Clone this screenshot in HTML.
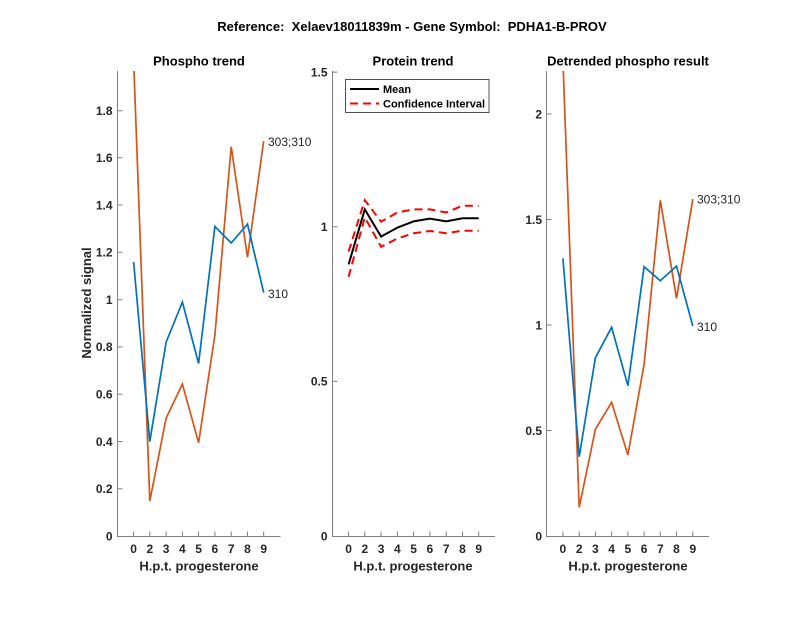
<!DOCTYPE html>
<html><head><meta charset="utf-8"><style>
html,body{margin:0;padding:0;background:#fff;}
svg{display:block;font-family:"Liberation Sans",Arial,Helvetica,sans-serif;}
.tk{font-size:12px;font-weight:bold;fill:#262626;}
.ttl{font-size:13px;font-weight:bold;fill:#000;}
.lab{font-size:13px;font-weight:bold;fill:#262626;}
.ax{stroke:#808080;stroke-width:1;fill:none;}
.dl{font-size:12px;fill:#262626;}
</style></head><body>
<svg width="800" height="618" viewBox="0 0 800 618" xmlns="http://www.w3.org/2000/svg">
<rect width="800" height="618" fill="#fff"/>
<defs>
<clipPath id="c1"><rect x="117" y="71" width="164" height="466"/></clipPath>
<clipPath id="c3"><rect x="546" y="71" width="164" height="466"/></clipPath>
</defs>
<text x="412" y="31" class="ttl" text-anchor="middle">Reference:&#160; Xelaev18011839m - Gene Symbol:&#160; PDHA1-B-PROV</text>

<!-- LEFT PLOT -->
<text x="199" y="65.5" class="ttl" text-anchor="middle">Phospho trend</text>
<path class="ax" d="M117.5,71 V536.5 H280.5"/>
<g stroke="#808080" stroke-width="1">
<path d="M133.6,536 v-4.5 M149.8,536 v-4.5 M166.1,536 v-4.5 M182.4,536 v-4.5 M198.6,536 v-4.5 M214.9,536 v-4.5 M231.2,536 v-4.5 M247.5,536 v-4.5 M263.7,536 v-4.5"/>
<path d="M118,488.7 h4.5 M118,441.5 h4.5 M118,394.1 h4.5 M118,346.9 h4.5 M118,299.7 h4.5 M118,252.2 h4.5 M118,205 h4.5 M118,157.8 h4.5 M118,110.7 h4.5"/>
</g>
<g class="tk" text-anchor="end">
<text x="112.5" y="540.3">0</text>
<text x="112.5" y="493">0.2</text>
<text x="112.5" y="445.8">0.4</text>
<text x="112.5" y="398.4">0.6</text>
<text x="112.5" y="351.2">0.8</text>
<text x="112.5" y="304">1</text>
<text x="112.5" y="256.5">1.2</text>
<text x="112.5" y="209.3">1.4</text>
<text x="112.5" y="162.1">1.6</text>
<text x="112.5" y="115">1.8</text>
</g>
<g class="tk" text-anchor="middle">
<text x="133.6" y="553">0</text><text x="149.8" y="553">2</text><text x="166.1" y="553">3</text><text x="182.4" y="553">4</text><text x="198.6" y="553">5</text><text x="214.9" y="553">6</text><text x="231.2" y="553">7</text><text x="247.5" y="553">8</text><text x="263.7" y="553">9</text>
</g>
<text x="199" y="570.5" class="lab" text-anchor="middle">H.p.t. progesterone</text>
<text transform="translate(91,303) rotate(-90)" class="lab" text-anchor="middle">Normalized signal</text>
<g clip-path="url(#c1)" fill="none" stroke-width="1.7" stroke-linejoin="miter">
<polyline stroke="#D95319" points="133.6,60 149.8,501 166.1,418.3 182.4,384 198.6,442.7 214.9,335 231.2,146.7 247.5,257.3 263.7,141"/>
<polyline stroke="#0072BD" points="133.6,261.9 149.8,441.5 166.1,342.2 182.4,302.1 198.6,363.5 214.9,226.5 231.2,243 247.5,224.1 263.7,292.6"/>
</g>
<text x="268" y="146" class="dl">303;310</text>
<text x="268" y="298" class="dl">310</text>

<!-- MIDDLE PLOT -->
<text x="413" y="65.5" class="ttl" text-anchor="middle">Protein trend</text>
<path class="ax" d="M332.5,71 V536.5 H495"/>
<g stroke="#808080" stroke-width="1">
<path d="M348.6,536 v-4.5 M364.8,536 v-4.5 M381.1,536 v-4.5 M397.4,536 v-4.5 M413.6,536 v-4.5 M429.9,536 v-4.5 M446.2,536 v-4.5 M462.5,536 v-4.5 M478.7,536 v-4.5"/>
<path d="M333,381.4 h4.5 M333,226.7 h4.5 M333,72.1 h4.5"/>
</g>
<g class="tk" text-anchor="end">
<text x="327.5" y="540.3">0</text>
<text x="327.5" y="385.7">0.5</text>
<text x="327.5" y="231">1</text>
<text x="327.5" y="76.4">1.5</text>
</g>
<g class="tk" text-anchor="middle">
<text x="348.6" y="553">0</text><text x="364.8" y="553">2</text><text x="381.1" y="553">3</text><text x="397.4" y="553">4</text><text x="413.6" y="553">5</text><text x="429.9" y="553">6</text><text x="446.2" y="553">7</text><text x="462.5" y="553">8</text><text x="478.7" y="553">9</text>
</g>
<text x="413" y="570.5" class="lab" text-anchor="middle">H.p.t. progesterone</text>
<g fill="none">
<polyline stroke="#FF0000" stroke-width="2" stroke-dasharray="8,5" points="348.6,251.4 364.8,200.1 381.1,221.7 397.4,212.5 413.6,209.4 429.9,209.4 446.2,212.5 462.5,205.7 478.7,205.7"/>
<polyline stroke="#FF0000" stroke-width="2" stroke-dasharray="8,5" points="348.6,276.8 364.8,217.4 381.1,246.8 397.4,238.5 413.6,233.2 429.9,231 446.2,233.2 462.5,230.7 478.7,230.7"/>
<polyline stroke="#000" stroke-width="2" points="348.6,264.4 364.8,209.4 381.1,236.6 397.4,227.6 413.6,221.4 429.9,218.7 446.2,221.4 462.5,218.3 478.7,218.3"/>
</g>
<rect x="345.5" y="79.5" width="143.5" height="33" fill="#fff" stroke="#262626" stroke-width="0.8"/>
<line x1="350" y1="89" x2="379" y2="89" stroke="#000" stroke-width="2"/>
<line x1="350" y1="103.5" x2="379" y2="103.5" stroke="#FF0000" stroke-width="2" stroke-dasharray="8,5"/>
<text x="383" y="93" style="font-size:11px;font-weight:bold;fill:#000">Mean</text>
<text x="383" y="107.5" style="font-size:11px;font-weight:bold;fill:#000">Confidence Interval</text>

<!-- RIGHT PLOT -->
<text x="628" y="65.5" class="ttl" text-anchor="middle">Detrended phospho result</text>
<path class="ax" d="M546.5,71 V536.5 H709"/>
<g stroke="#808080" stroke-width="1">
<path d="M562.9,536 v-4.5 M579.2,536 v-4.5 M595.4,536 v-4.5 M611.6,536 v-4.5 M627.9,536 v-4.5 M644.1,536 v-4.5 M660.3,536 v-4.5 M676.5,536 v-4.5 M692.8,536 v-4.5"/>
<path d="M547,430.5 h4.5 M547,325 h4.5 M547,219.5 h4.5 M547,114 h4.5"/>
</g>
<g class="tk" text-anchor="end">
<text x="542" y="540.3">0</text>
<text x="542" y="434.8">0.5</text>
<text x="542" y="329.3">1</text>
<text x="542" y="223.8">1.5</text>
<text x="542" y="118.3">2</text>
</g>
<g class="tk" text-anchor="middle">
<text x="562.9" y="553">0</text><text x="579.2" y="553">2</text><text x="595.4" y="553">3</text><text x="611.6" y="553">4</text><text x="627.9" y="553">5</text><text x="644.1" y="553">6</text><text x="660.3" y="553">7</text><text x="676.5" y="553">8</text><text x="692.8" y="553">9</text>
</g>
<text x="628" y="570.5" class="lab" text-anchor="middle">H.p.t. progesterone</text>
<g clip-path="url(#c3)" fill="none" stroke-width="1.7">
<polyline stroke="#D95319" points="562.9,60 579.2,507.3 595.4,429.3 611.6,402.3 627.9,455 644.1,364.3 660.3,200.3 676.5,298.3 692.8,199"/>
<polyline stroke="#0072BD" points="562.9,258.3 579.2,456.7 595.4,357.7 611.6,327.3 627.9,385.7 644.1,266.7 660.3,280.7 676.5,266 692.8,326"/>
</g>
<text x="697" y="203.5" class="dl">303;310</text>
<text x="697" y="331" class="dl">310</text>
</svg>
</body></html>
